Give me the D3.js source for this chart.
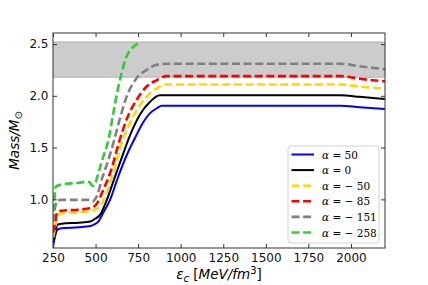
<!DOCTYPE html>
<html>
<head>
<meta charset="utf-8">
<script src="https://cdn.jsdelivr.net/npm/d3@7"></script>
<style>
  body { margin: 0; background: #fff; }
  svg { display: block; }
</style>
</head>
<body>
<div id="content"></div>
<script>
// chart data
var alphaLabels = ["50", "0", "\u221250", "\u221285", "\u2212151", "\u2212258"];
var seriesColors = ["#0000ff", "#000000", "#ffd700", "#ff0000", "#808080", "#32cd32"];
var seriesDashed = [false, false, true, true, true, true];

var massA50 = [[250,0.54],[262,0.64],[275,0.705],[300,0.72],[400,0.73],[470,0.742],[495,0.76],[516,0.785],[545,0.87],[585,0.995],[633,1.22],[692,1.46],[712,1.53],[731,1.59],[761,1.69],[819,1.83],[860,1.88],[888,1.905],[1000,1.905],[1500,1.905],[1940,1.905],[2050,1.89],[2200,1.873]];
var massA0 = [[250,0.6],[262,0.66],[275,0.755],[300,0.765],[400,0.775],[470,0.785],[495,0.81],[526,0.85],[565,0.99],[614,1.22],[673,1.49],[698,1.6],[721,1.69],[761,1.82],[819,1.94],[878,2.005],[1000,2.005],[1940,2.005],[2050,1.99],[2200,1.97]];
var massAm50 = [[250,0.63],[262,0.72],[275,0.84],[300,0.865],[400,0.875],[470,0.885],[500,0.905],[526,0.93],[560,1.04],[600,1.23],[653,1.54],[692,1.70],[741,1.86],[800,1.99],[858,2.07],[917,2.11],[1000,2.11],[1940,2.11],[2050,2.09],[2200,2.067]];
var massAm85 = [[250,0.68],[262,0.77],[275,0.88],[300,0.89],[400,0.9],[467,0.913],[490,0.93],[506,0.955],[545,1.09],[585,1.25],[643,1.58],[682,1.77],[741,1.96],[800,2.09],[858,2.15],[917,2.19],[1000,2.19],[1940,2.19],[2050,2.165],[2200,2.14]];
var massAm151 = [[250,0.78],[262,0.92],[275,0.99],[300,0.995],[400,0.995],[465,0.995],[482,0.978],[497,1.0],[510,1.04],[536,1.19],[575,1.38],[609,1.57],[643,1.78],[682,1.99],[741,2.17],[800,2.25],[858,2.3],[917,2.31],[1000,2.31],[1940,2.31],[2050,2.285],[2200,2.257]];
var massAm258 = [[250,0.88],[258,1.0],[265,1.12],[290,1.14],[400,1.16],[448,1.17],[465,1.165],[482,1.13],[497,1.15],[516,1.25],[545,1.41],[575,1.57],[604,1.83],[633,2.08],[653,2.22],[682,2.38],[720,2.47],[761,2.515]];
var allSeries = [massA50, massA0, massAm50, massAm85, massAm151, massAm258];

var bandRange = [2.18, 2.52];
var xTicks = [250, 500, 750, 1000, 1250, 1500, 1750, 2000];
var yTicks = [1.0, 1.5, 2.0, 2.5];

let width = 428;
let height = 285;
var margin = {top: 33, right: 43, bottom: 37, left: 53};
var innerW = width - margin.left - margin.right;
var innerH = height - margin.top - margin.bottom;

var svg = d3.select("#content").append("svg")
    .attr("width", width)
    .attr("height", height);

var g = svg.append("g")
    .attr("transform", "translate(" + margin.left + "," + margin.top + ")");

var xScale = d3.scaleLinear().domain([250, 2200]).range([0, innerW]);
var yScale = d3.scaleLinear().domain([0.53, 2.607]).range([innerH, 0]);

g.append("defs").append("clipPath").attr("id", "clip")
    .append("rect").attr("width", innerW).attr("height", innerH);

// shaded band
g.append("rect")
    .attr("x", 0)
    .attr("width", innerW)
    .attr("y", yScale(bandRange[1]))
    .attr("height", yScale(bandRange[0]) - yScale(bandRange[1]))
    .attr("fill", "#cccccc");
bandRange.forEach(function(v) {
    g.append("line")
        .attr("x1", 0).attr("x2", innerW)
        .attr("y1", yScale(v)).attr("y2", yScale(v))
        .attr("stroke", "#b0b0b0").attr("stroke-width", 1);
});

var line = d3.line()
    .x(function(d) { return xScale(d[0]); })
    .y(function(d) { return yScale(d[1]); })
    .curve(d3.curveMonotoneX);

var curves = g.append("g").attr("clip-path", "url(#clip)");
allSeries.forEach(function(s, i) {
    curves.append("path")
        .datum(s)
        .attr("d", line)
        .attr("fill", "none")
        .attr("stroke", seriesColors[i])
        .attr("stroke-width", seriesDashed[i] ? 2.6 : 2)
        .attr("stroke-dasharray", seriesDashed[i] ? "8,3.6" : null);
});

// axes, ticks pointing inward on all sides
var fontTicks = "'DejaVu Sans', sans-serif";
function styleAxis(sel) {
    sel.select(".domain").remove();
    sel.selectAll("line").attr("stroke", "#333");
    sel.selectAll("text").style("font-family", fontTicks).style("font-size", "12px").attr("fill", "#111");
}
g.append("g")
    .attr("transform", "translate(0," + innerH + ")")
    .call(d3.axisBottom(xScale).tickValues(xTicks).tickSize(-4).tickPadding(5).tickFormat(d3.format("d")))
    .call(styleAxis);
g.append("g")
    .call(d3.axisTop(xScale).tickValues(xTicks).tickSize(-4).tickFormat(""))
    .call(styleAxis);
g.append("g")
    .call(d3.axisLeft(yScale).tickValues(yTicks).tickSize(-4).tickPadding(4.5).tickFormat(d3.format(".1f")))
    .call(styleAxis);
g.append("g")
    .attr("transform", "translate(" + innerW + ",0)")
    .call(d3.axisRight(yScale).tickValues(yTicks).tickSize(-4).tickFormat(""))
    .call(styleAxis);

g.append("rect")
    .attr("width", innerW).attr("height", innerH)
    .attr("fill", "none").attr("stroke", "#333").attr("stroke-width", 1);

// axis labels
var xl = svg.append("text")
    .attr("x", margin.left + innerW / 2)
    .attr("y", 279)
    .attr("text-anchor", "middle")
    .style("font-family", fontTicks)
    .style("font-size", "13.5px");
xl.append("tspan").style("font-style", "italic").text("\u03b5");
xl.append("tspan").style("font-style", "italic").style("font-size", "10px").attr("dy", 2.5).text("c");
xl.append("tspan").attr("dy", -2.5).text(" [");
xl.append("tspan").style("font-style", "italic").text("MeV/fm");
xl.append("tspan").style("font-size", "10px").attr("dy", -5).text("3");
xl.append("tspan").attr("dy", 5).text("]");

var yl = svg.append("text")
    .attr("transform", "translate(19," + (margin.top + innerH / 2) + ") rotate(-90)")
    .attr("text-anchor", "middle")
    .style("font-family", fontTicks)
    .style("font-size", "13.5px")
    .style("font-style", "italic");
yl.append("tspan").text("Mass/M");
yl.append("tspan").style("font-size", "10px").style("font-style", "normal").attr("dy", 3).text("\u2299");

// legend
var legX = 288, legY = 146, legW = 91, legH = 97, rowH = 15.6;
svg.append("rect")
    .attr("x", legX).attr("y", legY)
    .attr("width", legW).attr("height", legH)
    .attr("rx", 3)
    .attr("fill", "#fff").attr("fill-opacity", 0.85)
    .attr("stroke", "#d0d0d0").attr("stroke-width", 1);

alphaLabels.forEach(function(lab, i) {
    var cy = legY + 8.5 + i * rowH;
    svg.append("line")
        .attr("x1", legX + 3.5).attr("x2", legX + 26)
        .attr("y1", cy).attr("y2", cy)
        .attr("stroke", seriesColors[i])
        .attr("stroke-width", seriesDashed[i] ? 2.6 : 2)
        .attr("stroke-dasharray", seriesDashed[i] ? "8,3.6" : null);
    var t = svg.append("text")
        .attr("x", legX + 34).attr("y", cy + 4)
        .style("font-family", "'DejaVu Serif', serif")
        .style("font-size", "10.5px");
    t.append("tspan").style("font-style", "italic").text("\u03b1");
    t.append("tspan").text(lab.charAt(0) === "\u2212" ? " = \u2212 " + lab.slice(1) : " = " + lab);
});
</script>
</body>
</html>
